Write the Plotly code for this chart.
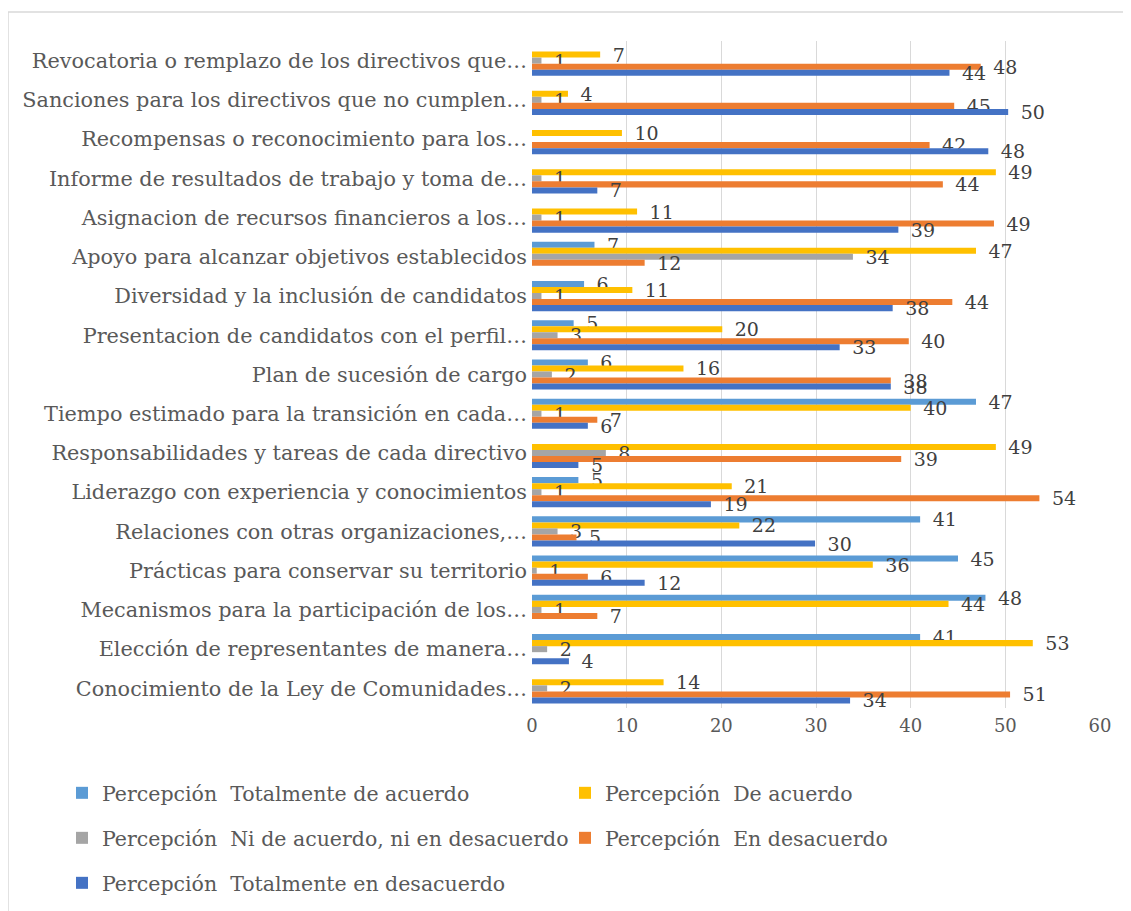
import plotly.graph_objects as go

categories = [
    "Revocatoria o remplazo de los directivos que…",
    "Sanciones para los directivos que no cumplen…",
    "Recompensas o reconocimiento para los…",
    "Informe de resultados de trabajo y toma de…",
    "Asignacion de recursos financieros a los…",
    "Apoyo para alcanzar objetivos establecidos",
    "Diversidad y la inclusión de candidatos",
    "Presentacion de candidatos con el perfil…",
    "Plan de sucesión de cargo",
    "Tiempo estimado para la transición en cada…",
    "Responsabilidades y tareas de cada directivo",
    "Liderazgo con experiencia y conocimientos",
    "Relaciones con otras organizaciones,…",
    "Prácticas para conservar su territorio",
    "Mecanismos para la participación de los…",
    "Elección de representantes de manera…",
    "Conocimiento de la Ley de Comunidades…",
]

series_names = [
    "Percepción\u00a0 Totalmente de acuerdo",
    "Percepción\u00a0 De acuerdo",
    "Percepción\u00a0 Ni de acuerdo, ni en desacuerdo",
    "Percepción\u00a0 En desacuerdo",
    "Percepción\u00a0 Totalmente en desacuerdo",
]

# bar lengths
totalmente_acuerdo = [None, None, None, None, None, 6.6, 5.5, 4.4, 5.9, 46.9, None, 4.9, 41.0, 45.0, 47.9, 41.0, None]
de_acuerdo = [7.2, 3.8, 9.5, 49.0, 11.1, 46.9, 10.6, 20.1, 16.0, 40.0, 49.0, 21.1, 21.9, 36.0, 44.0, 52.9, 13.9]
ni_acuerdo = [1.0, 1.0, None, 1.0, 1.0, 33.9, 1.0, 2.7, 2.1, 1.0, 7.8, 1.0, 2.7, 0.5, 1.0, 1.6, 1.6]
en_desacuerdo = [47.4, 44.6, 42.0, 43.4, 48.8, 11.9, 44.4, 39.8, 37.9, 6.9, 39.0, 53.6, 4.7, 5.9, 6.9, None, 50.5]
totalmente_desacuerdo = [44.1, 50.3, 48.2, 6.9, 38.7, None, 38.1, 32.5, 37.9, 5.9, 4.9, 18.9, 29.9, 11.9, None, 3.9, 33.6]

# data labels as printed in the picture
lbl_totalmente_acuerdo = [None, None, None, None, None, 7, 6, 5, 6, 47, None, 5, 41, 45, 48, 41, None]
lbl_de_acuerdo = [7, 4, 10, 49, 11, 47, 11, 20, 16, 40, 49, 21, 22, 36, 44, 53, 14]
lbl_ni_acuerdo = [1, 1, None, 1, 1, 34, 1, 3, 2, 1, 8, 1, 3, 1, 1, 2, 2]
lbl_en_desacuerdo = [48, 45, 42, 44, 49, 12, 44, 40, 38, 7, 39, 54, 5, 6, 7, None, 51]
lbl_totalmente_desacuerdo = [44, 50, 48, 7, 39, None, 38, 33, 38, 6, 5, 19, 30, 12, None, 4, 34]

x_ticks = [0, 10, 20, 30, 40, 50, 60]

colors = ["#5B9BD5", "#FFC000", "#A5A5A5", "#ED7D31", "#4472C4"]
values = [totalmente_acuerdo, de_acuerdo, ni_acuerdo, en_desacuerdo, totalmente_desacuerdo]
labels = [lbl_totalmente_acuerdo, lbl_de_acuerdo, lbl_ni_acuerdo, lbl_en_desacuerdo, lbl_totalmente_desacuerdo]
legend_ids = ["legend", "legend2", "legend3", "legend4", "legend5"]
# legend entry anchor points in page pixels (column x, row y)
legend_pos = [(62, 793), (565, 793), (62, 838), (565, 838), (62, 883)]

FONT = "DejaVu Serif"

fig = go.Figure()
for name, vals, lbls, col, lg in zip(series_names, values, labels, colors, legend_ids):
    fig.add_trace(go.Bar(
        y=categories,
        x=vals,
        name=name,
        orientation="h",
        marker=dict(color=col, line=dict(width=0)),
        text=["\u2002" + str(t) if t is not None else "" for t in lbls],
        textposition="outside",
        textfont=dict(family=FONT, size=19, color="#404040"),
        constraintext="none",
        cliponaxis=False,
        legend=lg,
        hoverinfo="skip",
    ))

# page has an 8px body margin: work in page pixels, convert to figure pixels
OFF = 8
W, H = 1131 - OFF, 911 - OFF
PL, PR, PT, PB = 532, 1100, 41, 708  # plot area in page pixels
L, T = PL - OFF, PT - OFF
R, B = W - (PR - OFF), H - (PB - OFF)
pw = PR - PL
ph = PB - PT

def px_x(x):
    return (x - PL) / pw

def px_y(y):
    return (PB - y) / ph

def cont_x(x):
    return (x - OFF) / W

def cont_y(y):
    return (H - (y - OFF)) / H

legend_common = dict(
    orientation="h",
    font=dict(family=FONT, size=20.5, color="#595959"),
    bgcolor="rgba(0,0,0,0)",
    itemwidth=30,
    xref="container",
    yref="container",
    xanchor="left",
    yanchor="middle",
)

legend_layout = {}
for lg, (lx, ly) in zip(legend_ids, legend_pos):
    legend_layout[lg] = dict(legend_common, x=cont_x(lx), y=cont_y(ly))

fig.update_layout(
    width=W,
    height=H,
    margin=dict(l=L, r=R, t=T, b=B, pad=0, autoexpand=False),
    paper_bgcolor="white",
    plot_bgcolor="white",
    barmode="group",
    bargap=0.23,
    bargroupgap=0,
    font=dict(family=FONT, color="#595959"),
    xaxis=dict(
        range=[0, 60],
        tickvals=x_ticks,
        ticktext=[str(v) for v in x_ticks],
        showgrid=True,
        gridcolor="#D9D9D9",
        gridwidth=1.3,
        zeroline=False,
        showline=False,
        ticks="",
        automargin=False,
        tickfont=dict(family=FONT, size=18, color="#595959"),
        ticklabelstandoff=5,
    ),
    yaxis=dict(
        type="category",
        autorange="reversed",
        showgrid=False,
        zeroline=False,
        showline=False,
        ticks="",
        automargin=False,
        tickfont=dict(family=FONT, size=20.8, color="#595959"),
        ticklabelstandoff=4,
    ),
    showlegend=True,
    **legend_layout,
)

fig.add_shape(
    type="rect",
    xref="paper", yref="paper",
    x0=px_x(8), x1=px_x(1140),
    y0=px_y(930), y1=px_y(12),
    line=dict(color="#D9D9D9", width=1.5),
    fillcolor="rgba(0,0,0,0)",
    layer="below",
)

fig.write_html("out.html")
